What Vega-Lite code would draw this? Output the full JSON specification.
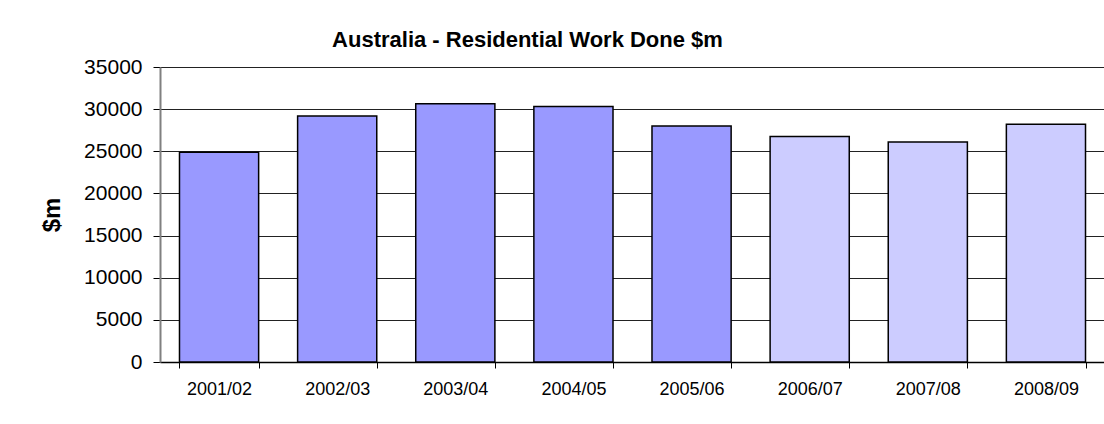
{
  "$schema": "https://vega.github.io/schema/vega-lite/v6.json",
  "autosize": {"type": "none"},
  "padding": {"left": 160, "top": 67, "right": 0, "bottom": 62},
  "width": 945,
  "height": 295,
  "background": "white",
  "title": {
    "text": "Australia - Residential Work Done $m",
    "font": "Liberation Sans",
    "fontSize": 22,
    "fontWeight": "bold",
    "color": "black",
    "anchor": "middle",
    "baseline": "alphabetic",
    "offset": 20,
    "dx": -105,
    "dy": 33
  },
  "data": {
    "values": [
      {"year": "2001/02", "value": 24900, "kind": "actual"},
      {"year": "2002/03", "value": 29200, "kind": "actual"},
      {"year": "2003/04", "value": 30650, "kind": "actual"},
      {"year": "2004/05", "value": 30300, "kind": "actual"},
      {"year": "2005/06", "value": 28000, "kind": "actual"},
      {"year": "2006/07", "value": 26750, "kind": "forecast"},
      {"year": "2007/08", "value": 26100, "kind": "forecast"},
      {"year": "2008/09", "value": 28200, "kind": "forecast"}
    ]
  },
  "mark": {"type": "bar", "stroke": "black", "strokeWidth": 1.5},
  "encoding": {
    "x": {
      "field": "year",
      "type": "nominal",
      "sort": null,
      "scale": {"paddingInner": 0.33, "paddingOuter": 0.165},
      "axis": {
        "title": null,
        "labelAngle": 0,
        "labelFont": "Liberation Sans",
        "labelFontSize": 18,
        "labelColor": "black",
        "labelPadding": 12,
        "tickBand": "extent",
        "tickColor": "black",
        "tickSize": 6,
        "domainColor": "black",
        "domainWidth": 1.5,
        "grid": false
      }
    },
    "y": {
      "field": "value",
      "type": "quantitative",
      "scale": {"domain": [0, 35000], "nice": false},
      "axis": {
        "title": "$m",
        "titleFont": "Liberation Sans",
        "titleFontSize": 24,
        "titleFontWeight": "bold",
        "titleColor": "black",
        "titlePadding": 19,
        "values": [0, 5000, 10000, 15000, 20000, 25000, 30000, 35000],
        "format": "d",
        "labelFont": "Liberation Sans",
        "labelFontSize": 21,
        "labelColor": "black",
        "labelPadding": 11,
        "tickColor": "black",
        "tickSize": 7,
        "domainColor": "#808080",
        "domainWidth": 2,
        "grid": true,
        "gridColor": "#222222",
        "gridWidth": 1,
        "gridOpacity": 1
      }
    },
    "color": {
      "field": "kind",
      "type": "nominal",
      "scale": {"domain": ["actual", "forecast"], "range": ["#9999FF", "#CCCCFF"]},
      "legend": null
    }
  },
  "config": {"view": {"stroke": null}}
}
